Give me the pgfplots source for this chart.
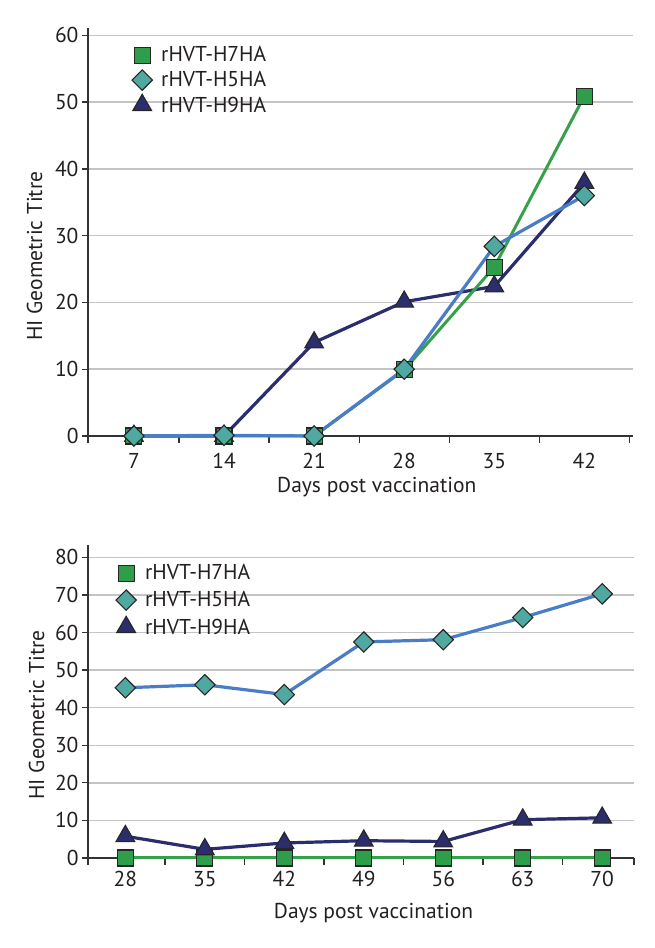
\documentclass[border=0pt]{standalone}
\usepackage{fontspec}
\setmainfont{PT Sans}
\usepackage{pgfplots}
\pgfplotsset{compat=1.18}
\definecolor{cgreen}{HTML}{2E9E4B}
\definecolor{cgreenl}{HTML}{36A04A}
\definecolor{cteal}{HTML}{4FA9A1}
\definecolor{cblue}{HTML}{4A7DC6}
\definecolor{cnavy}{HTML}{2B2D6C}
\definecolor{cgrid}{HTML}{C4C4C4}
\definecolor{caxis}{HTML}{333333}
\definecolor{ctext}{HTML}{231F20}
\newcommand\fs{\fontsize{21.5}{25}\selectfont}
\pgfplotsset{
  mystyle/.style={
    scale only axis, clip=false,
    axis x line*=bottom, axis y line*=left,
    axis line style={caxis, line width=1.6pt},
    ymajorgrids, grid style={cgrid, line width=1.5pt},
    tick align=outside,
    major x tick style={draw=none},
    minor x tick style={caxis, line width=1.3pt},
    minor tick length=7pt,
    ytick style={caxis, line width=1.3pt},
    major tick length=6pt,
    ticklabel style={font=\fs, text=ctext},
    /pgf/number format/assume math mode=true,
    label style={font=\fs, text=ctext},
    legend cell align=left,
    legend image code/.code={\path[draw=none,fill=none] (-11pt,-11pt) rectangle (11pt,11pt); \draw[##1] plot[only marks] coordinates {(0pt,0pt)};},
  },
  sH7/.style={cgreenl, line width=3pt, mark=square*, mark size=8pt, mark options={fill=cgreen, draw=black!85, line width=1.1pt}},
  sH5/.style={cblue, line width=3.2pt, mark=square*, mark size=7.2pt, mark options={rotate=45, fill=cteal, draw=black!85, line width=1.1pt}},
  sH9/.style={cnavy, line width=3.2pt, mark=triangle*, mark size=10.8pt, mark options={fill=cnavy, draw=black!85, line width=1.1pt}},
}
\begin{document}
\begin{tikzpicture}
\useasboundingbox (0,0) rectangle (654pt,948pt);
% top chart
\begin{axis}[mystyle,
  at={(88pt,512pt)}, anchor=south west, width=545pt, height=408pt,
  xmin=-0.51, xmax=5.54, ymin=0, ymax=61.1,
  xtick={0,...,5}, xticklabels={7,14,21,28,35,42},
  xticklabel style={yshift=-8pt},
  minor xtick={-0.51,0.5,1.5,2.5,3.5,4.5,5.5},
  ytick={0,10,...,60},
  xlabel={Days post vaccination},
  xlabel style={at={(axis description cs:0.53,-0.1397)}, anchor=base},
  ylabel={HI Geometric Titre},
  ylabel style={at={(axis description cs:-0.0844,0.441)}, anchor=base, rotate=0},
  legend style={at={(axis description cs:0.0789,0.961)}, anchor=north west, draw=none, fill=none, inner sep=0pt, row sep=3pt, column sep=8pt, nodes={inner sep=0pt}, font=\fs, text=ctext},
]
\addlegendimage{sH7}
\addlegendentry{rHVT-H7HA}
\addlegendimage{sH5}
\addlegendentry{rHVT-H5HA}
\addlegendimage{sH9}
\addlegendentry{rHVT-H9HA}
\addplot[sH9, forget plot] coordinates {(0,0) (1,0) (2,14.0) (3,20.1) (4,22.4) (5,37.9)};
\addplot[sH7, forget plot] coordinates {(0,0) (1,0) (2,0) (3,9.9) (4,25.3) (5,50.9)};
\addplot[sH5, forget plot] coordinates {(0,0) (1,0.1) (2,0) (3,10.0) (4,28.4) (5,36.0)};
\end{axis}
% bottom chart
\begin{axis}[mystyle,
  at={(88pt,90pt)}, anchor=south west, width=546pt, height=313pt,
  xmin=-0.47, xmax=6.4, ymin=0, ymax=83.3,
  xtick={0,...,6}, xticklabels={28,35,42,49,56,63,70},
  xticklabel style={yshift=-4pt},
  minor xtick={-0.47,0.5,1.5,2.5,3.5,4.5,5.5,6.4},
  ytick={0,10,...,80},
  xlabel={Days post vaccination},
  xlabel style={at={(axis description cs:0.523,-0.1917)}, anchor=base},
  ylabel={HI Geometric Titre},
  ylabel style={at={(axis description cs:-0.0804,0.457)}, anchor=base, rotate=0},
  legend style={at={(axis description cs:0.0494,0.946)}, anchor=north west, draw=none, fill=none, inner sep=0pt, row sep=5pt, column sep=8pt, nodes={inner sep=0pt}, font=\fs, text=ctext},
]
\addlegendimage{sH7}
\addlegendentry{rHVT-H7HA}
\addlegendimage{sH5}
\addlegendentry{rHVT-H5HA}
\addlegendimage{sH9}
\addlegendentry{rHVT-H9HA}
\addplot[sH7, forget plot] coordinates {(0,0) (1,0) (2,0) (3,0) (4,0) (5,0) (6,0)};
\addplot[sH9, forget plot] coordinates {(0,5.8) (1,2.3) (2,4.0) (3,4.6) (4,4.4) (5,10.2) (6,10.7)};
\addplot[sH5, forget plot] coordinates {(0,45.3) (1,46.1) (2,43.5) (3,57.5) (4,58.1) (5,64.0) (6,70.3)};
\end{axis}
\end{tikzpicture}
\end{document}
